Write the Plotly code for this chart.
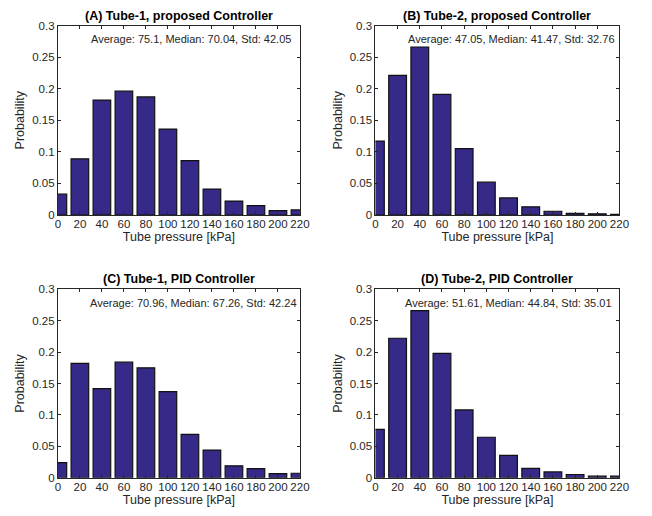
import plotly.graph_objects as go

bins = [0, 20, 40, 60, 80, 100, 120, 140, 160, 180, 200, 220]
prob_a = [0.033, 0.089, 0.182, 0.196, 0.187, 0.136, 0.086, 0.041, 0.022, 0.015, 0.007, 0.008]
prob_b = [0.117, 0.221, 0.266, 0.191, 0.105, 0.052, 0.027, 0.013, 0.006, 0.0026, 0.002, 0.001]
prob_c = [0.024, 0.182, 0.142, 0.184, 0.175, 0.137, 0.069, 0.044, 0.019, 0.0145, 0.0067, 0.0072]
prob_d = [0.077, 0.222, 0.266, 0.198, 0.108, 0.0645, 0.0356, 0.015, 0.0093, 0.0052, 0.0026, 0.0026]

titles = ["(A) Tube-1, proposed Controller", "(B) Tube-2, proposed Controller",
          "(C) Tube-1, PID Controller", "(D) Tube-2, PID Controller"]
stats = ["Average: 75.1, Median: 70.04, Std: 42.05",
         "Average: 47.05, Median: 41.47, Std: 32.76",
         "Average: 70.96, Median: 67.26, Std: 42.24",
         "Average: 51.61, Median: 44.84, Std: 35.01"]
stat_x = [28, 28, 27, 24.5]

W, H = 652, 516
# pixel boxes of each plot area: (left, right, top, bottom)
boxes = [(56, 303, 20, 214), (380, 629, 20, 214), (56, 303, 290, 483), (380, 629, 290, 483)]

FONT = "Liberation Sans, Arial, Helvetica, sans-serif"
TXT = "#262626"

fig = go.Figure()
series = [prob_a, prob_b, prob_c, prob_d]
layout = dict(
    width=W, height=H, margin=dict(l=0, r=0, t=0, b=0),
    paper_bgcolor="white", plot_bgcolor="white", showlegend=False,
    font=dict(family=FONT, size=11, color=TXT),
    annotations=[],
)
for i, (vals, box) in enumerate(zip(series, boxes)):
    n = "" if i == 0 else str(i + 1)
    fig.add_trace(go.Bar(
        x=bins, y=vals, width=16, xaxis="x" + n, yaxis="y" + n,
        marker=dict(color="#352A87", line=dict(color="#111111", width=1.2)),
    ))
    l, r, t, b = box
    layout["xaxis" + n] = dict(
        domain=[l / W, r / W], anchor="y" + n, range=[0, 220],
        tickmode="array", tickvals=bins, ticktext=[str(v) for v in bins],
        ticks="inside", ticklen=3, tickcolor=TXT, mirror="ticks",
        showline=True, linecolor=TXT, linewidth=1, showgrid=False, zeroline=False,
        tickfont=dict(size=11.5, color=TXT), ticklabelstandoff=-2,
        title=dict(text="Tube pressure [kPa]", font=dict(size=12.5, color=TXT), standoff=0),
    )
    layout["yaxis" + n] = dict(
        domain=[1 - b / H, 1 - t / H], anchor="x" + n, range=[0, 0.3],
        tickmode="array", tickvals=[0, 0.05, 0.1, 0.15, 0.2, 0.25, 0.3],
        ticktext=["0", "0.05", "0.1", "0.15", "0.2", "0.25", "0.3"],
        ticks="inside", ticklen=3, tickcolor=TXT, mirror="ticks",
        showline=True, linecolor=TXT, linewidth=1, showgrid=False, zeroline=False,
        tickfont=dict(size=11.5, color=TXT),
        title=dict(text="Probability", font=dict(size=12.5, color=TXT), standoff=4),
    )
    layout["annotations"].append(dict(
        text="<b>" + titles[i] + "</b>", xref="paper", yref="paper",
        x=(l + r) / 2 / W, y=1 - (t - 10) / H, xanchor="center", yanchor="middle",
        showarrow=False, font=dict(size=12.5, color="black"),
    ))
    layout["annotations"].append(dict(
        text=stats[i], xref="x" + n, yref="y" + n, x=stat_x[i], y=0.278,
        xanchor="left", yanchor="middle", showarrow=False,
        font=dict(size=11, color=TXT),
    ))

fig.update_layout(**layout)
fig.write_html("out.html")
